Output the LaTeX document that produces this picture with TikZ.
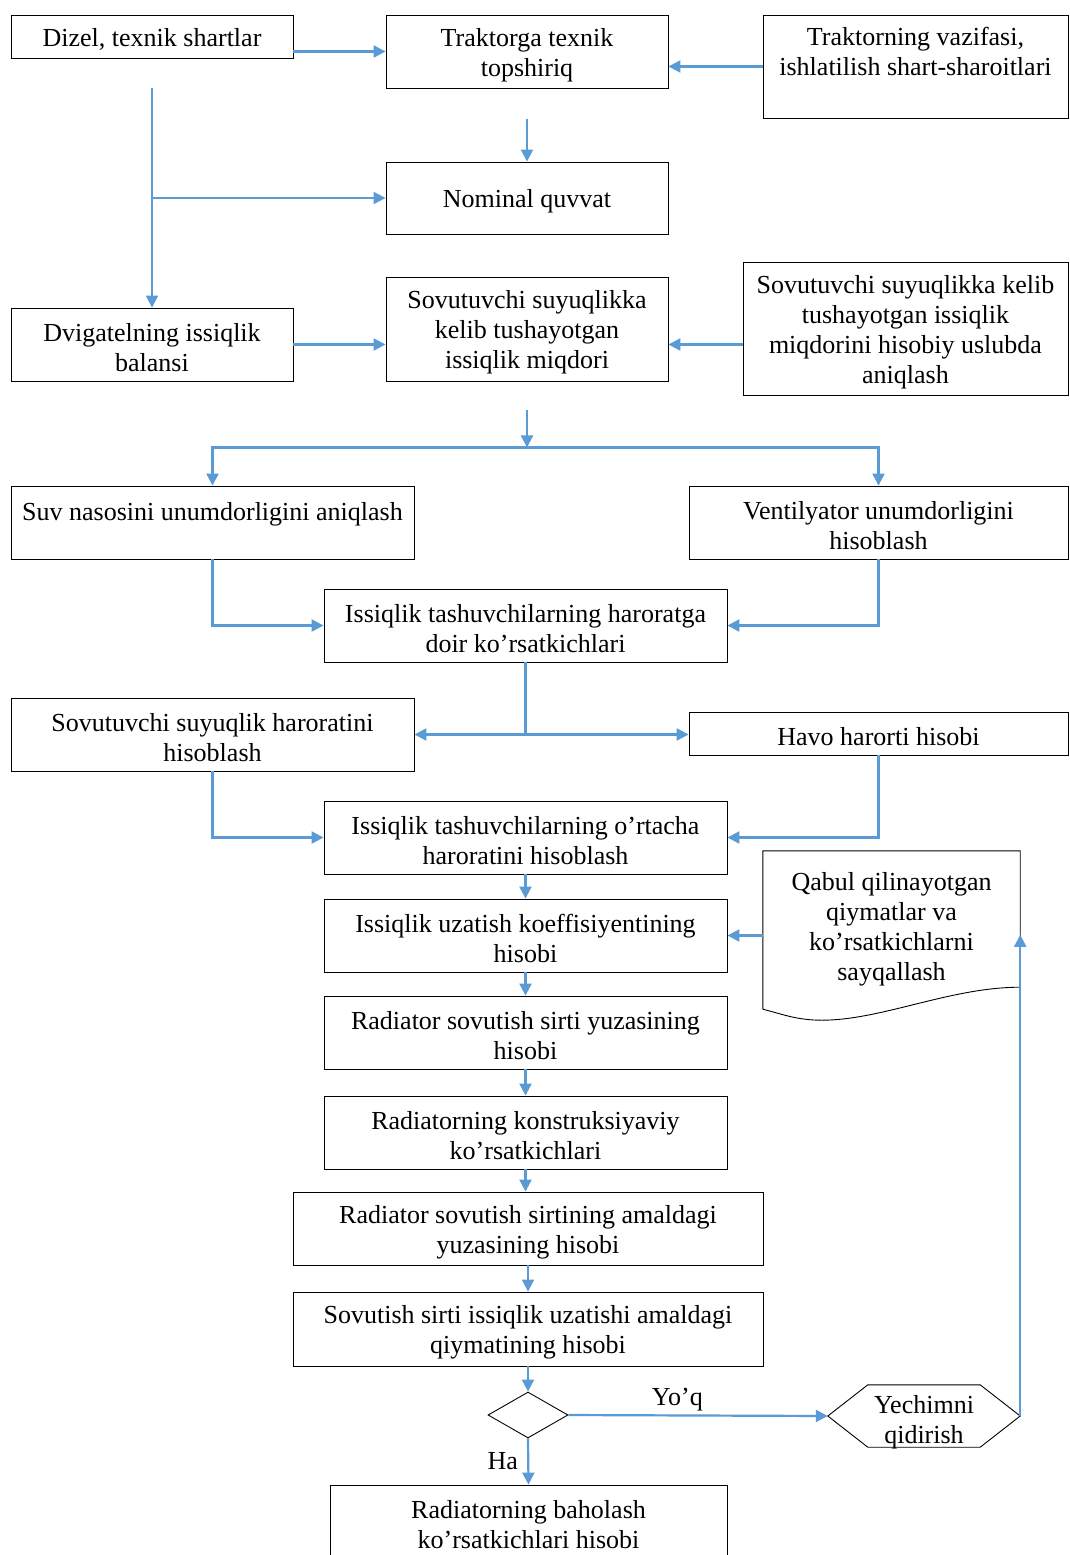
\documentclass[tikz,border=0pt]{standalone}
\usepackage{fontspec}
\setmainfont{Liberation Serif}
\usetikzlibrary{arrows.meta,calc,shapes.geometric}
\definecolor{chiziq}{HTML}{5B9BD5}
\tikzset{
  blok/.style={draw=black, line width=0.9pt, align=flush center, inner sep=0pt, execute at begin node={\rule{0pt}{25pt}}},
  olcham/.style 2 args={minimum width=#1pt, minimum height=#2pt, text width=#1pt},
  oq/.style={draw=chiziq, line width=2.2pt, -{Triangle[length=12pt,width=12pt]}},
  yol/.style={draw=chiziq, line width=2.2pt}
}
\begin{document}
\begin{tikzpicture}[x=1pt, y=-1pt, font=\fontsize{26}{30}\selectfont]
\fill[white] (0,0) rectangle (1069,1555);
\useasboundingbox (0,0) rectangle (1069,1555);
\node[blok, olcham={282}{43}] (dizel) at (152,36.5) {Dizel, texnik shartlar};
\node[blok, olcham={282}{73}] (topshiriq) at (527,51.5) {Traktorga texnik\\topshiriq};
\node[blok, olcham={305}{103}] (vazifa) at (915.5,66.5) {Traktorning vazifasi,\\ishlatilish shart-sharoitlari\\[6pt]\mbox{}};
\node[blok, olcham={282}{72}] (nominal) at (527,198) {Nominal quvvat};
\node[blok, olcham={282}{73}] (balans) at (152,344.5) {Dvigatelning issiqlik\\balansi};
\node[blok, olcham={282}{104}] (miqdor) at (527,329) {Sovutuvchi suyuqlikka\\kelib tushayotgan\\issiqlik miqdori};
\node[blok, olcham={325}{133}] (hisobiy) at (905.5,328.5) {Sovutuvchi suyuqlikka kelib\\tushayotgan issiqlik\\miqdorini hisobiy uslubda\\aniqlash};
\node[blok, olcham={403}{73}] (nasos) at (212.5,522.5) {Suv nasosini unumdorligini aniqlash\\\mbox{}};
\node[blok, olcham={379}{73}] (ventil) at (878.5,522.5) {Ventilyator unumdorligini\\hisoblash};
\node[blok, olcham={403}{73}] (doir) at (525.5,625.5) {Issiqlik tashuvchilarning haroratga\\doir ko’rsatkichlari};
\node[blok, olcham={403}{73}] (suyuqharorat) at (212.5,734.5) {Sovutuvchi suyuqlik haroratini\\hisoblash};
\node[blok, olcham={379}{43}] (havo) at (878.5,733.5) {Havo harorti hisobi};
\node[blok, olcham={403}{73}] (ortacha) at (525.5,837.5) {Issiqlik tashuvchilarning o’rtacha\\haroratini hisoblash};
\node[blok, olcham={403}{73}] (koeff) at (525.5,935.5) {Issiqlik uzatish koeffisiyentining\\hisobi};
\node[blok, olcham={403}{73}] (yuza) at (525.5,1032.5) {Radiator sovutish sirti yuzasining\\hisobi};
\node[blok, olcham={403}{73}] (konstr) at (525.5,1132.5) {Radiatorning konstruksiyaviy\\ko’rsatkichlari};
\node[blok, olcham={470}{73}] (amaldagi) at (528,1228.5) {Radiator sovutish sirtining amaldagi\\yuzasining hisobi};
\node[blok, olcham={470}{74}] (qiymat) at (528,1329) {Sovutish sirti issiqlik uzatishi amaldagi\\qiymatining hisobi};
\node[draw=black, line width=0.9pt, shape=diamond, inner sep=0pt, minimum width=80pt, minimum height=46pt] (romb) at (528,1415) {};
\node[align=flush center, inner sep=0pt, olcham={192}{62}, text height=28pt, text depth=34pt] (yechim) at (924,1416) {Yechimni\\qidirish};
\draw[line width=0.9pt] ($(yechim.north west)+(40,0)$) -- ($(yechim.north east)+(-40,0)$) -- (yechim.east)
  -- ($(yechim.south east)+(-40,0)$) -- ($(yechim.south west)+(40,0)$) -- (yechim.west) -- cycle;
\node[blok, olcham={397}{73}] (baholash) at (528.5,1521.5) {Radiatorning baholash\\ko’rsatkichlari hisobi};
\node[align=flush center, inner sep=0pt, olcham={257}{150}, execute at begin node={\rule{0pt}{25pt}}] (qabul) at (891.5,926) {Qabul qilinayotgan\\qiymatlar va\\ko’rsatkichlarni\\sayqallash};
\draw[line width=0.9pt] ($(qabul.south west)+(0,8)$) -- (qabul.north west) -- (qabul.north east) -- ($(qabul.south east)+(0,-14)$)
  .. controls +(-70,0) and +(60,0) .. ($(qabul.south west)+(59,19)$)
  .. controls +(-25,0) and +(20,5) .. ($(qabul.south west)+(0,8)$);
\coordinate (c1) at ($(dizel.south)+(0,30)$);
\coordinate (c2) at ($(topshiriq.south)+(0,31)$);
\coordinate (c3) at ($(miqdor.south)+(0,29)$);
\coordinate (c4) at ($(c3)+(0,37)$);
\coordinate (c5) at (doir.south |- suyuqharorat.east);
\coordinate (c6) at ($(qabul.north east)+(0,84)$);
\draw[oq] (dizel.east |- topshiriq.west) -- (topshiriq.west);
\draw[oq] (vazifa.west) -- (vazifa.west -| topshiriq.east);
\draw[oq] (c1) -- (balans.north);
\draw[oq] (c1 |- nominal.west) -- (nominal.west);
\draw[oq] (c2) -- (nominal.north);
\draw[oq] (balans.east) -- (balans.east -| miqdor.west);
\draw[oq] (hisobiy.west |- balans.east) -- (miqdor.east |- balans.east);
\draw[oq] (c3) -- (c4);
\draw[oq] (c4) -| (nasos.north);
\draw[oq] (c4) -| (ventil.north);
\draw[oq] (nasos.south) |- (doir.west);
\draw[oq] (ventil.south) |- (doir.east);
\draw[yol] (doir.south) -- (c5);
\draw[oq] (c5) -- (suyuqharorat.east);
\draw[oq] (c5) -- (c5 -| havo.west);
\draw[oq] (suyuqharorat.south) |- (ortacha.west);
\draw[oq] (havo.south) |- (ortacha.east);
\foreach \a/\b in {ortacha/koeff, koeff/yuza, yuza/konstr, konstr/amaldagi, amaldagi/qiymat, qiymat/romb}
  \draw[oq] (\a.south) -- (\a.south |- \b.north);
\draw[oq] (romb.east) -- (yechim.west) node[pos=0.42, above] {Yo’q};
\draw[oq] (romb.south) -- (baholash.north) node[midway, left=6pt] {Ha};
\draw[oq] (yechim.east) -- (yechim.east |- c6);
\draw[oq] (qabul.west |- koeff.east) -- (koeff.east);
\end{tikzpicture}
\end{document}
